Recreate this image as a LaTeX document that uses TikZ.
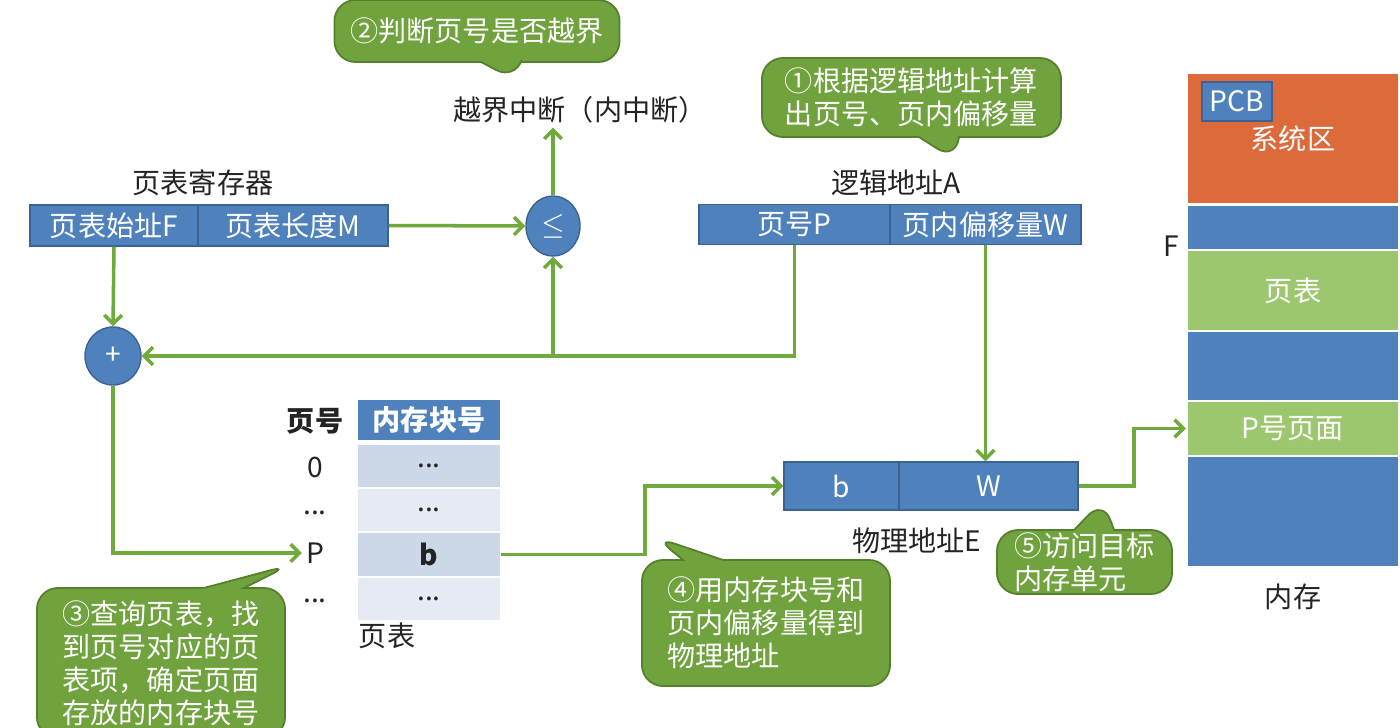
\documentclass[tikz,border=0pt]{standalone}
\usepackage{fontspec}
\setmainfont{Noto Sans CJK SC}
\usepackage{xcolor}
\usetikzlibrary{arrows.meta, positioning, shapes.geometric, shapes.callouts}

\definecolor{boxblue}{RGB}{79,129,189}
\definecolor{boxedge}{RGB}{58,98,148}
\definecolor{sysorange}{RGB}{221,106,58}
\definecolor{pagegreen}{RGB}{157,199,110}
\definecolor{tipgreen}{RGB}{112,162,62}
\definecolor{tipedge}{RGB}{84,128,44}
\definecolor{linegreen}{RGB}{112,170,60}
\definecolor{rowdark}{RGB}{204,215,232}
\definecolor{rowlight}{RGB}{229,234,243}
\definecolor{labelgray}{RGB}{35,35,35}

\begin{document}
\begin{tikzpicture}[x=0.01cm, y=-0.01cm,
  txt/.style={font=\fontsize{8}{9.4}\selectfont, text=labelgray, inner sep=1pt},
  cell/.style={draw=boxedge, line width=0.4pt, fill=boxblue, text=white, inner sep=0pt, font=\fontsize{8}{9.4}\selectfont},
  op/.style={ellipse, draw=boxedge, line width=0.4pt, fill=boxblue, text=white, inner sep=0pt, font=\fontsize{8}{9}\selectfont},
  row/.style={inner sep=0pt, minimum width=1.42cm, minimum height=0.42cm, text=labelgray, font=\fontsize{8}{9.4}\selectfont},
  mem/.style={draw=white, line width=0.6pt, inner sep=0pt, minimum width=2.12cm, text=white, font=\fontsize{8}{9.4}\selectfont},
  tip/.style={rectangle callout, rounded corners=6pt, draw=tipedge, line width=0.5pt, fill=tipgreen, text=white, inner sep=0pt, callout pointer width=0.4cm, align=left, font=\fontsize{8}{9.4}\selectfont},
  arr/.style={-{Straight Barb[length=2.5pt,width=5pt]}, line width=1pt, linegreen}
]
  \useasboundingbox (0,0) rectangle (1400,727);
  \fill[white] (0,0) rectangle (1400,727);

  % Page table register
  \node[txt] (regname) at (203,183) {页表寄存器};
  \node[cell, minimum width=1.68cm, minimum height=0.41cm] (regF) at (114,225.5) {页表始址F};
  \node[cell, minimum width=1.90cm, minimum height=0.41cm] (regM) at (293,225.5) {页表长度M};

  % Compare and add
  \node[op, minimum width=0.54cm, minimum height=0.60cm] (le) at (553,226) {$\le$};
  \node[op, minimum width=0.56cm, minimum height=0.58cm] (plus) at (113,356) {+};
  \node[txt] (intr) at (580,110) {越界中断（内中断）};

  % Logical address
  \node[txt] (laname) at (896,183) {逻辑地址A};
  \node[cell, minimum width=1.91cm, minimum height=0.40cm] (laP) at (794.5,224.5) {页号P};
  \node[cell, minimum width=1.91cm, minimum height=0.40cm] (laW) at (985.5,224.5) {页内偏移量W};

  % Page table
  \node[txt, font=\fontsize{8}{9.4}\selectfont\bfseries] (pnohead) at (315,421) {页号};
  \node[row, fill=boxblue, text=white, minimum height=0.40cm, font=\fontsize{8}{9.4}\selectfont\bfseries] (blkhead) at (429,420) {内存块号};
  \node[row, fill=rowdark]  (row0) at (429,466) {...};
  \node[row, fill=rowlight] (row1) at (429,510) {...};
  \node[row, fill=rowdark, font=\fontsize{8}{9.4}\selectfont\bfseries] (rowb) at (429,554.5) {b};
  \node[row, fill=rowlight] (row3) at (429,599) {...};
  \node[txt] (p0) at (315,467) {0};
  \node[txt] (p1) at (315,513) {...};
  \node[txt] (pP) at (315,553) {P};
  \node[txt] (p3) at (315,601) {...};
  \node[txt] (ptname) at (387,636) {页表};

  % Physical address
  \node[cell, minimum width=1.15cm, minimum height=0.48cm] (phB) at (841.5,486) {b};
  \node[cell, minimum width=1.79cm, minimum height=0.48cm] (phW) at (988.5,486) {W};
  \node[txt] (phname) at (917,541) {物理地址E};

  % Memory
  \node[mem, fill=sysorange, minimum height=1.31cm] (msys) at (1293,138.5) {系统区};
  \node[cell, minimum width=0.70cm, minimum height=0.39cm] (pcb) at (1237,101.5) {PCB};
  \node[mem, fill=boxblue, minimum height=0.45cm] (mfree1) at (1293,227.5) {};
  \node[mem, fill=pagegreen, minimum height=0.81cm] (mtable) at (1293,290.5) {页表};
  \node[mem, fill=boxblue, minimum height=0.70cm] (mfree2) at (1293,366) {};
  \node[mem, fill=pagegreen, minimum height=0.55cm] (mpage) at (1293,428.5) {P号页面};
  \node[mem, fill=boxblue, minimum height=1.11cm] (mfree3) at (1293,511.5) {};
  \node[txt] (fmark) at (1171,246) {F};
  \node[txt] (memname) at (1293,597) {内存};

  % Data flow
  \draw[arr] (regM.east) -- (le.west);
  \draw[arr] (le.north) -- (le.north |- intr.south);
  \draw[arr] (regF.south) -- (plus.north);
  \draw[arr] (laP.south) |- (plus.east);
  \coordinate (split) at (le.south |- plus.east);
  \draw[arr] (split) -- (le.south);
  \draw[arr] (plus.south) |- (pP.west);
  \draw[arr] (rowb.east) -- ++(144,0) |- (phB.west);
  \draw[arr] (laW.south) -- (laW.south |- phW.north);
  \draw[arr] (phW.east) -- ++(55,0) |- (mpage.west);

  % Step callouts
  \node[tip, minimum width=2.85cm, minimum height=0.62cm, align=center, callout absolute pointer={(515,80)}] (c2) at (477,31) {②判断页号是否越界};
  \node[tip, minimum width=2.99cm, minimum height=0.79cm, callout absolute pointer={(955,160)}] (c1) at (911.5,97.5) {①根据逻辑地址计算\\出页号、页内偏移量};
  \node[tip, minimum width=2.48cm, minimum height=1.50cm, callout absolute pointer={(290,565)}] (c3) at (161,663) {③查询页表，找\\到页号对应的页\\表项，确定页面\\存放的内存块号};
  \node[tip, minimum width=2.48cm, minimum height=1.26cm, callout absolute pointer={(655,537)}] (c4) at (766,623) {④用内存块号和\\页内偏移量得到\\物理地址};
  \node[tip, minimum width=1.75cm, minimum height=0.64cm, callout absolute pointer={(1103,500)}] (c5) at (1084.5,562) {⑤访问目标\\内存单元};

\end{tikzpicture}
\end{document}
